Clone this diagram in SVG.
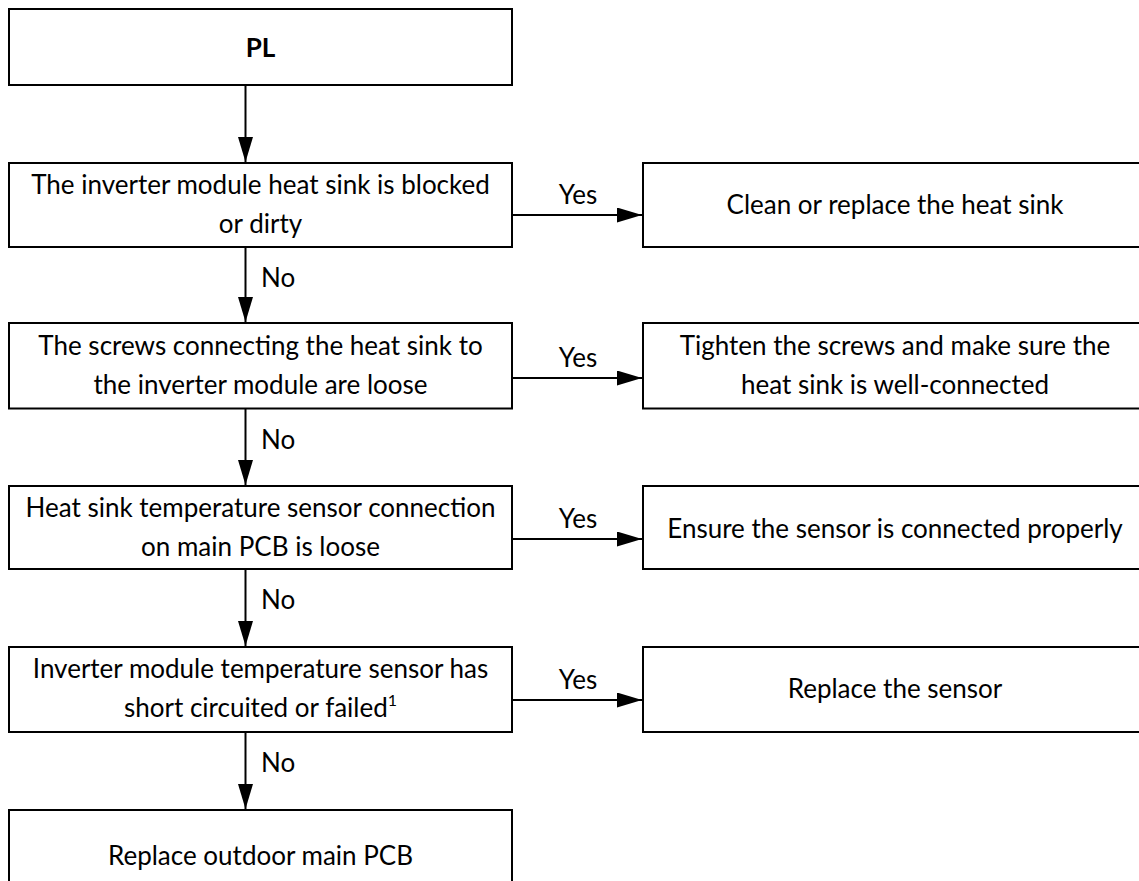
<svg xmlns="http://www.w3.org/2000/svg" width="1139" height="881" viewBox="0 0 1139 881">
<style>
.box{fill:#fff;stroke:#000;stroke-width:2}
.t{font-family:Lato,"Liberation Sans",sans-serif;font-size:26px;fill:#000;text-anchor:middle}
.lbl{font-family:Lato,"Liberation Sans",sans-serif;font-size:26px;fill:#000}
.b{font-weight:bold}
.c{stroke:#000;stroke-width:2;fill:none;marker-end:url(#arr)}
</style>
<defs>
<marker id="arr" markerUnits="userSpaceOnUse" markerWidth="25" markerHeight="15" refX="25" refY="7.5" orient="auto">
<path d="M0,0 L25,7.5 L0,15 z" fill="#000"/>
</marker>
</defs>
<rect width="1139" height="881" fill="#fff"/>
<g id="connectors">
<line class="c" x1="245.5" y1="85" x2="245.5" y2="162"/>
<line class="c" x1="245.5" y1="247" x2="245.5" y2="322"/>
<line class="c" x1="245.5" y1="408.5" x2="245.5" y2="485"/>
<line class="c" x1="245.5" y1="569" x2="245.5" y2="646"/>
<line class="c" x1="245.5" y1="732" x2="245.5" y2="809"/>
<line class="c" x1="512" y1="215" x2="642" y2="215"/>
<line class="c" x1="512" y1="378" x2="642" y2="378"/>
<line class="c" x1="512" y1="539" x2="642" y2="539"/>
<line class="c" x1="512" y1="700" x2="642" y2="700"/>
<text class="lbl" x="261" y="287">No</text>
<text class="lbl" x="261" y="449">No</text>
<text class="lbl" x="261" y="609">No</text>
<text class="lbl" x="261" y="772">No</text>
<text class="t" x="578" y="204">Yes</text>
<text class="t" x="578" y="367">Yes</text>
<text class="t" x="578" y="528">Yes</text>
<text class="t" x="578" y="689">Yes</text>
</g>
<g id="n-pl">
<rect class="box" x="9" y="9" width="503" height="76"/>
<text class="t b" x="260.5" y="57">PL</text>
</g>
<g id="n-q1">
<rect class="box" x="9" y="163" width="503" height="84"/>
<text class="t" x="260.5" y="194">The inverter module heat sink is blocked</text>
<text class="t" x="260.5" y="233">or dirty</text>
</g>
<g id="n-a1">
<rect class="box" x="643" y="163" width="504" height="84"/>
<text class="t" x="895" y="214">Clean or replace the heat sink</text>
</g>
<g id="n-q2">
<rect class="box" x="9" y="323" width="503" height="85.5"/>
<text class="t" x="260.5" y="355">The screws connecting the heat sink to</text>
<text class="t" x="260.5" y="394">the inverter module are loose</text>
</g>
<g id="n-a2">
<rect class="box" x="643" y="323" width="504" height="85.5"/>
<text class="t" x="895" y="355">Tighten the screws and make sure the</text>
<text class="t" x="895" y="394">heat sink is well-connected</text>
</g>
<g id="n-q3">
<rect class="box" x="9" y="486" width="503" height="83"/>
<text class="t" x="260.5" y="517">Heat sink temperature sensor connection</text>
<text class="t" x="260.5" y="556">on main PCB is loose</text>
</g>
<g id="n-a3">
<rect class="box" x="643" y="486" width="504" height="83"/>
<text class="t" x="895" y="538">Ensure the sensor is connected properly</text>
</g>
<g id="n-q4">
<rect class="box" x="9" y="647" width="503" height="85"/>
<text class="t" x="260.5" y="678">Inverter module temperature sensor has</text>
<text class="t" x="260.5" y="717">short circuited or failed<tspan font-size="16" dy="-11">1</tspan></text>
</g>
<g id="n-a4">
<rect class="box" x="643" y="647" width="504" height="85"/>
<text class="t" x="895" y="698">Replace the sensor</text>
</g>
<g id="n-end">
<rect class="box" x="9" y="810" width="503" height="90"/>
<text class="t" x="260.5" y="865">Replace outdoor main PCB</text>
</g>
</svg>
